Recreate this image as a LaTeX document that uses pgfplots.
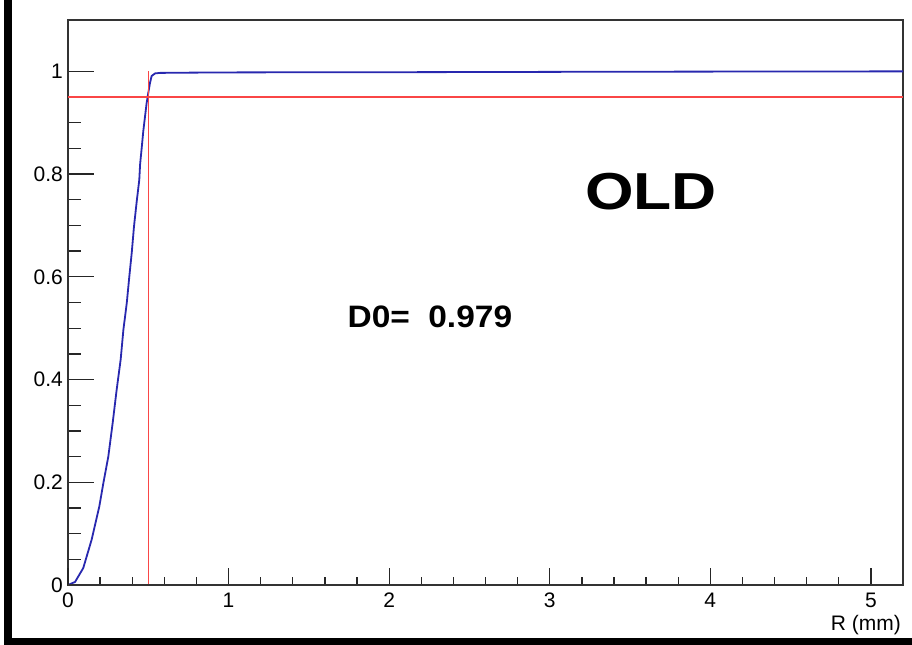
\documentclass[border=0pt]{standalone}
\usepackage{fontspec}
\setmainfont{Liberation Sans}
\usepackage{pgfplots}
\pgfplotsset{compat=1.18}
\definecolor{histblue}{RGB}{40,40,175}
\definecolor{cutred}{RGB}{250,70,70}

% ROOT-like frame shared by both overlaid axes
\pgfplotsset{rootaxis/.style={at={(68bp,60bp)}, anchor=south west, scale only axis,
  width=835bp, height=565bp, xmin=0, xmax=5.2, ymin=0, ymax=1.1,
  axis line style={black!80, line width=1.3bp}, tick align=inside,
  xtick pos=bottom, ytick pos=left, xtick={0,1,2,3,4,5}, minor x tick num=4,
  ytick={0,0.2,0.4,0.6,0.8,1}, minor y tick num=3,
  every tick/.style={black!85, line width=1.3bp},
  tick label style={font=\fontsize{21bp}{24bp}\selectfont},
  /pgf/number format/assume math mode=true}}

\begin{document}
\begin{tikzpicture}
\useasboundingbox (0,0) rectangle (912bp,645bp);
\fill[white] (0,0) rectangle (912bp,645bp);
\fill[black] (4bp,0) rectangle (12bp,645bp);
\fill[black] (4bp,0) rectangle (912bp,7bp);

\begin{axis}[rootaxis, major tick length=26bp, minor tick length=13bp,
  x tick style={draw=none}, minor x tick style={draw=none},
  yticklabel style={inner sep=0pt, xshift=-5bp},
  xticklabel style={inner sep=0pt, yshift=-8bp},
  xlabel={R (mm)}, xlabel style={at={(rel axis cs:1,0)}, anchor=base east, inner sep=0pt,
    yshift=-45bp, xshift=-2bp, font=\fontsize{21bp}{24bp}\selectfont}]
\addplot[histblue, line width=1.8bp] coordinates {(0,0)(0.044,0.006)(0.095,0.033)(0.147,0.088)(0.195,0.153)(0.22,0.198)(0.251,0.25)(0.278,0.315)(0.303,0.38)(0.328,0.439)(0.345,0.497)(0.366,0.549)(0.382,0.601)(0.397,0.647)(0.411,0.698)(0.428,0.747)(0.444,0.789)(0.449,0.819)(0.459,0.851)(0.469,0.884)(0.48,0.913)(0.49,0.939)(0.5,0.958)(0.511,0.978)(0.521,0.991)(0.542,0.996)(0.573,0.997)(0.76,0.9975)(1.07,0.998)(2.28,0.9985)(3.45,0.9993)(5.2,1.0)};
\addplot[cutred, line width=1.3bp] coordinates {(0.5,0)(0.5,1)};
\addplot[cutred, line width=1.3bp] coordinates {(0,0.95)(5.2,0.95)};
\node[anchor=base west, inner sep=0pt] at (axis cs:1.74,0.501)
  {\scalebox{1.08}[1]{\fontsize{31bp}{31bp}\bfseries\selectfont D0=\hspace{0.55em}0.979}};
\node[anchor=base west, inner sep=0pt] at (axis cs:3.22,0.731)
  {\scalebox{1.2}[1]{\fontsize{52bp}{52bp}\bfseries\selectfont OLD}};
\end{axis}

\begin{axis}[rootaxis, hide y axis, major tick length=17bp, minor tick length=8bp,
  xticklabels={}]
\end{axis}
\end{tikzpicture}
\end{document}
